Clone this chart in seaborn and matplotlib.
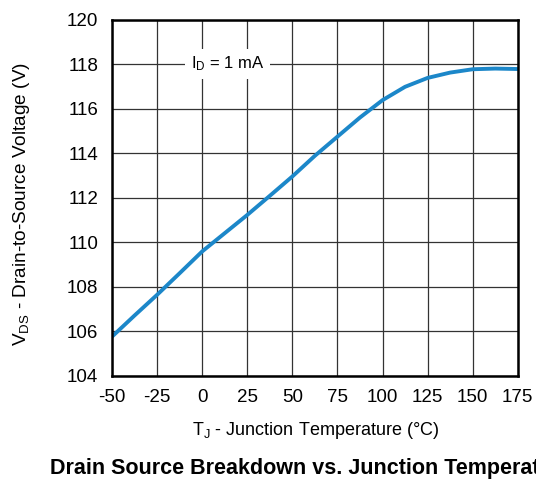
import matplotlib
matplotlib.use("Agg")
import matplotlib.pyplot as plt
import seaborn as sns
import pandas as pd

# data
temp_c = [-50, -37.5, -25, -12.5, 0, 12.5, 25, 37.5, 50, 62.5, 75, 87.5,
          100, 112.5, 125, 137.5, 150, 162.5, 175]
vds_v = [105.75, 106.7, 107.63, 108.6, 109.58, 110.4, 111.22, 112.08, 112.95,
         113.88, 114.74, 115.6, 116.38, 116.98, 117.38, 117.62, 117.77, 117.8, 117.78]

x_ticks = [-50, -25, 0, 25, 50, 75, 100, 125, 150, 175]
y_ticks = [104, 106, 108, 110, 112, 114, 116, 118, 120]

sns.set_theme(style="white")
plt.rcParams['font.family'] = ['Liberation Sans', 'DejaVu Sans']
plt.rcParams['mathtext.fontset'] = 'custom'
plt.rcParams['mathtext.rm'] = 'Liberation Sans'
plt.rcParams['axes.unicode_minus'] = False
plt.rcParams['text.color'] = 'black'

df = pd.DataFrame({'T': temp_c, 'V': vds_v})

fig = plt.figure(figsize=(5.36, 4.79), dpi=100)
ax = fig.add_axes([0.209, 0.216, 0.757, 0.743])

sns.lineplot(data=df, x='T', y='V', ax=ax, color='#1c87c9', linewidth=2.8, zorder=3)

ax.set_xlim(-50, 175)
ax.set_ylim(104, 120)
ax.set_xticks(x_ticks)
ax.set_yticks(y_ticks)
ax.grid(True, color='#333333', linewidth=0.9)
ax.set_axisbelow(True)
for s in ax.spines.values():
    s.set_color('black')
    s.set_linewidth(1.8)
    s.set_zorder(4)
ax.tick_params(axis='both', length=0, pad=10, labelsize=13.5, colors='black')

ax.set_xlabel('')
ax.set_ylabel('')
fig.text(0.588, 0.102, r'T$\mathregular{_J}$ - Junction Temperature (°C)',
         ha='center', va='center', fontsize=13)
fig.text(0.04, 0.574, r'V$\mathregular{_{DS}}$ - Drain-to-Source Voltage (V)',
         ha='center', va='center', rotation=90, fontsize=13.7)

ax.text(14, 118, r'$\mathregular{I_D}$ = 1 mA', ha='center', va='center', fontsize=12,
        bbox=dict(facecolor='white', edgecolor='none', pad=4), zorder=5)

# the title runs past the right edge in the original too
fig.text(0.582, 0.021, 'Drain Source Breakdown vs. Junction Temperature',
         ha='center', va='center', fontsize=15.5, fontweight='bold')

fig.savefig('out.png', dpi=100)
